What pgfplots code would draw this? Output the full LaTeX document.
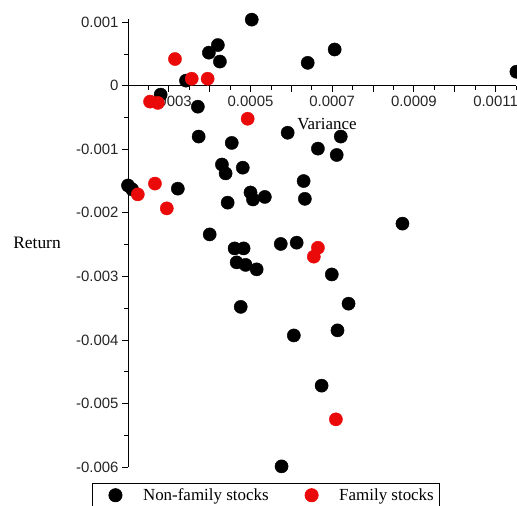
\documentclass[border=0pt]{standalone}
\usepackage{fontspec}
\setmainfont{Liberation Serif}
\newfontfamily\ticksf{Liberation Sans}
\usepackage{pgfplots}
\pgfplotsset{compat=1.18}
\definecolor{famred}{RGB}{235,10,10}

\pgfplotstableread{
x y
0.000503 0.00104
0.000420 0.00064
0.000398 0.00052
0.000425 0.00038
0.000342 0.00008
0.000280 -0.00014
0.000371 -0.00033
0.000373 -0.00080
0.000454 -0.00090
0.000430 -0.00124
0.000439 -0.00138
0.000481 -0.00129
0.000200 -0.00157
0.000210 -0.00163
0.000322 -0.00162
0.000444 -0.00184
0.000500 -0.00168
0.000506 -0.00179
0.000535 -0.00175
0.000400 -0.00234
0.000461 -0.00256
0.000483 -0.00256
0.000466 -0.00278
0.000488 -0.00282
0.000515 -0.00289
0.000476 -0.00348
0.000706 0.00057
0.000640 0.00036
0.001151 0.00022
0.000591 -0.00074
0.000721 -0.00080
0.000665 -0.00099
0.000711 -0.00109
0.000630 -0.00150
0.000633 -0.00178
0.000872 -0.00217
0.000574 -0.00249
0.000613 -0.00247
0.000699 -0.00297
0.000740 -0.00343
0.000606 -0.00393
0.000713 -0.00385
0.000674 -0.00472
0.000576 -0.00599
}\nonfamily

\pgfplotstableread{
x y
0.000315 0.00042
0.000356 0.00011
0.000395 0.00011
0.000254 -0.00025
0.000273 -0.00027
0.000493 -0.00052
0.000266 -0.00154
0.000224 -0.00171
0.000295 -0.00193
0.000665 -0.00255
0.000655 -0.00269
0.000709 -0.00525
}\family

\begin{document}
\begin{tikzpicture}
\begin{axis}[
  scale only axis, width=388bp, height=448bp,
  xmin=0.0002, xmax=0.00115, ymin=-0.006, ymax=0.00105,
  axis x line=middle, axis y line=left,
  axis line style={-, line width=0.9pt},
  clip=false,
  scaled x ticks=false, scaled y ticks=false,
  xtick={0.0003,0.0004,0.0005,0.0006,0.0007,0.0008,0.0009,0.001,0.0011},
  xticklabels={0.0003,{},0.0005,{},0.0007,{},0.0009,{},0.0011},
  minor xtick={0.00025,0.00035,0.00045,0.00055,0.00065,0.00075,0.00085,0.00095,0.00105,0.00115},
  ytick={-0.006,-0.005,-0.004,-0.003,-0.002,-0.001,0,0.001},
  yticklabels={-0.006,-0.005,-0.004,-0.003,-0.002,-0.001,0,0.001},
  minor ytick={-0.0055,-0.0045,-0.0035,-0.0025,-0.0015,-0.0005,0.0005},
  tick align=outside,
  major tick length=6bp, minor tick length=4bp,
  tick style={black, line width=0.8pt},
  ticklabel style={font=\ticksf\fontsize{15}{17}\selectfont, text=black!85},
  xticklabel style={yshift=-1bp},
  ylabel={Return},
  every axis y label/.style={at={(axis description cs:-0.2345,0.5)}, anchor=center, rotate=0, font=\fontsize{17.5}{19}\selectfont},
  legend style={at={(axis description cs:0.356,-0.036)}, anchor=north,
    draw=black, line width=0.8pt, font=\fontsize{17}{19}\selectfont,
    inner xsep=4bp, inner ysep=3bp,
    /tikz/every odd column/.append style={column sep=19bp},
    /tikz/every even column/.append style={column sep=22bp}},
  legend columns=2,
  legend cell align=left,
  legend image code/.code={\path[draw=none,fill=none] (-19bp,-0.5bp) rectangle (0bp,0.5bp); \path[#1] plot coordinates {(0bp,0bp)};},
]
\addplot[only marks, mark=*, mark size=6.6bp, mark options={fill=black, draw=black}] table {\nonfamily};
\addlegendentry{Non-family stocks}
\addplot[only marks, mark=*, mark size=6.6bp, mark options={fill=famred, draw=famred}] table {\family};
\addlegendentry{Family stocks}
\node[font=\fontsize{17}{19}\selectfont] at (axis cs:0.000687,-0.00061) {Variance};
\end{axis}
\pgfresetboundingbox
\path (-128bp,-39bp) rectangle (389bp,467bp);
\end{tikzpicture}
\end{document}
